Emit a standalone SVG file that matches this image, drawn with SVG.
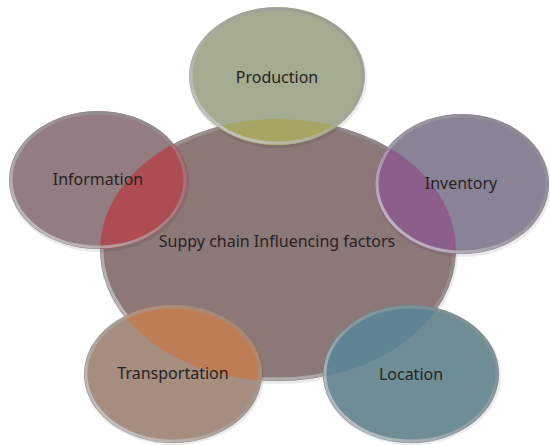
<svg xmlns="http://www.w3.org/2000/svg" width="550" height="445" viewBox="0 0 550 445">
<style>
text{font-family:"Noto Sans","DejaVu Sans",sans-serif;font-size:16px;fill:#2a2222;text-anchor:middle}
.rim{fill:none;stroke:url(#rimg);stroke-width:3}
.shadow{fill:#000;opacity:0.08}
</style>
<defs>
<clipPath id="cc"><ellipse cx="278" cy="250" rx="178" ry="131"/></clipPath>
<linearGradient id="rimg" x1="0" y1="1" x2="1" y2="0">
<stop offset="0" stop-color="#d8d8dc" stop-opacity="0.85"/>
<stop offset="0.5" stop-color="#a8a8a8" stop-opacity="0.6"/>
<stop offset="1" stop-color="#8a8a8a" stop-opacity="0.5"/>
</linearGradient>
</defs>
<rect width="550" height="445" fill="#ffffff"/>
<g id="center">
<ellipse class="shadow" cx="279" cy="252" rx="179" ry="132"/>
<ellipse cx="278" cy="250" rx="178" ry="131" fill="#8d7878"/>
<ellipse class="rim" cx="278" cy="250" rx="176" ry="129"/>
<text x="277" y="247">Suppy chain Influencing factors</text>
</g>
<g id="production">
<ellipse class="shadow" cx="278" cy="78" rx="89" ry="70"/>
<ellipse cx="277" cy="76" rx="88" ry="69" fill="#a3ab91"/>
<ellipse cx="277" cy="76" rx="88" ry="69" fill="#a7a563" clip-path="url(#cc)"/>
<ellipse class="rim" cx="277" cy="76" rx="86" ry="67"/>
<text x="277" y="83">Production</text>
</g>
<g id="information">
<ellipse class="shadow" cx="99" cy="182" rx="90" ry="70"/>
<ellipse cx="98" cy="180" rx="89" ry="69" fill="#937d80"/>
<ellipse cx="98" cy="180" rx="89" ry="69" fill="#ad4c53" clip-path="url(#cc)"/>
<ellipse class="rim" cx="98" cy="180" rx="87" ry="67"/>
<text x="98" y="185">Information</text>
</g>
<g id="inventory">
<ellipse class="shadow" cx="463" cy="186" rx="88" ry="71"/>
<ellipse cx="462" cy="184" rx="87" ry="70" fill="#8a8296"/>
<ellipse cx="462" cy="184" rx="87" ry="70" fill="#8c5e8a" clip-path="url(#cc)"/>
<ellipse class="rim" cx="462" cy="184" rx="85" ry="68"/>
<text x="461" y="189">Inventory</text>
</g>
<g id="transportation">
<ellipse class="shadow" cx="174" cy="376" rx="90" ry="69"/>
<ellipse cx="173" cy="374" rx="89" ry="69" fill="#a58e80"/>
<ellipse cx="173" cy="374" rx="89" ry="69" fill="#bf7d55" clip-path="url(#cc)"/>
<ellipse class="rim" cx="173" cy="374" rx="87" ry="67"/>
<text x="173" y="379">Transportation</text>
</g>
<g id="location">
<ellipse class="shadow" cx="412" cy="376" rx="89" ry="69"/>
<ellipse cx="411" cy="374" rx="88" ry="69" fill="#6f8d97"/>
<ellipse cx="411" cy="374" rx="88" ry="69" fill="#5f8593" clip-path="url(#cc)"/>
<ellipse class="rim" cx="411" cy="374" rx="86" ry="67"/>
<text x="411" y="380">Location</text>
</g>
<g id="connectors"/>
</svg>
